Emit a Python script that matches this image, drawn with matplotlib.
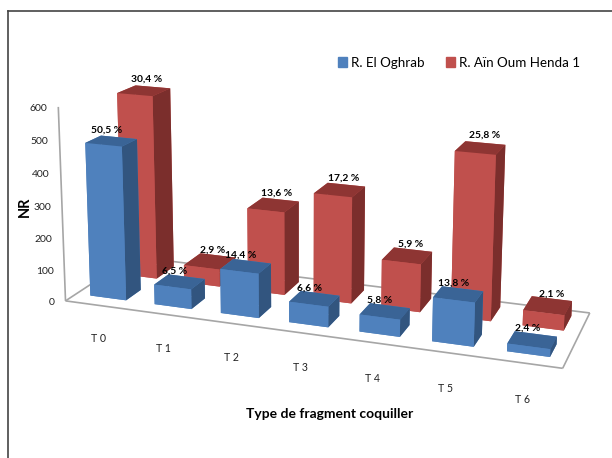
import matplotlib
matplotlib.use('Agg')
import matplotlib.pyplot as plt
import numpy as np
from matplotlib.lines import Line2D
from matplotlib.patches import Patch
from mpl_toolkits.mplot3d import Axes3D
from mpl_toolkits.mplot3d.art3d import Line3DCollection

WIDTH, HEIGHT = 612, 458

categories = ['T 0', 'T 1', 'T 2', 'T 3', 'T 4', 'T 5', 'T 6']
oghrab_counts = [480, 62, 137, 63, 52, 131, 23]
henda_counts = [590, 56, 264, 334, 150, 505, 47]
oghrab_labels = ['50,5 %', '6,5 %', '14,4 %', '6,6 %', '5,8 %', '13,8 %', '2,4 %']
henda_labels = ['30,4 %', '2,9 %', '13,6 %', '17,2 %', '5,9 %', '25,8 %', '2,1 %']
z_ticks = [0, 100, 200, 300, 400, 500, 600]

BAR_W = 0.56
BLUE_Y = (0.15, 0.37)
RED_Y = (0.62, 0.90)

# camera calibration: world (x, y, z) and the pixel each point lands on
calibration = [
    ((-0.5, 0, 0), (67, 302)), ((-0.5, 1, 0), (134, 262)),
    ((6.5, 1, 0), (591, 314)), ((6.5, 0, 0), (564, 368)),
    ((-0.5, 0, 600), (57, 104)), ((6.5, 0, 600), (571, 162)),
    ((-0.5, 0, 150), (64.5, 252.5)), ((-0.5, 0, 300), (62, 203)),
    ((-0.5, 0, 450), (59.5, 153.5)),
    ((-0.28, 0.15, 0), (91, 297)), ((0.28, 0.15, 0), (127, 301)),
    ((1.72, 0.15, 0), (219, 313)), ((2.28, 0.15, 0), (258, 318)),
    ((4.72, 0.15, 0), (431, 341)), ((5.28, 0.15, 0), (473, 346)),
    ((5.72, 0.15, 0), (507, 351)), ((6.28, 0.15, 0), (551, 356)),
    ((0.28, 0.37, 0), (139, 292)), ((5.28, 0.37, 0), (482, 335)),
    ((0.28, 0.62, 0), (159, 279)), ((0.28, 0.90, 0), (172, 264)),
    ((2.28, 0.62, 0), (285, 295)), ((2.28, 0.90, 0), (296, 280)),
    ((5.28, 0.62, 0), (492, 320)), ((5.28, 0.90, 0), (499, 305)),
    ((-0.28, 0.15, 480), (85, 143)), ((0.28, 0.15, 480), (122, 147)),
    ((-0.28, 0.62, 590), (119, 95)),
    ((4.72, 0.62, 500), (454, 151)), ((5.28, 0.62, 500), (497, 154)),
]

# face order of bar3d: bottom, top, front, back, left, right
BLUE_FACES = ['#4F81BD', '#3A6496', '#4F81BD', '#4F81BD', '#4F81BD', '#32557F']
RED_FACES = ['#C0504D', '#8E3533', '#C0504D', '#C0504D', '#C0504D', '#7B2E2C']
AXIS_GREY = '#A6A6A6'
TEXT_GREY = '#222222'

plt.rcParams['font.family'] = ['Lato', 'DejaVu Sans']


def fit_homography(points):
    # plain DLT, gives the 3x4 matrix world -> pixel
    rows = []
    for (x, y, z), (u, v) in points:
        rows.append([x, y, z, 1, 0, 0, 0, 0, -u*x, -u*y, -u*z, -u])
        rows.append([0, 0, 0, 0, x, y, z, 1, -v*x, -v*y, -v*z, -v])
    _, _, vt = np.linalg.svd(np.array(rows, dtype=float))
    h = vt[-1].reshape(3, 4)
    if h[2, 3] < 0:
        h = -h
    return h / h[2, 3]


fig = plt.figure(figsize=(WIDTH/100, HEIGHT/100), dpi=100)
# 3d axes are always square, so make it as wide as the figure and let it overhang
ax = fig.add_axes([0, -(WIDTH-HEIGHT)/2/HEIGHT, 1, WIDTH/HEIGHT], projection='3d')
ax.set_axis_off()
ax.computed_zorder = False
ax.set_xticks([])
ax.set_yticks([])
ax.set_zticks([])

world_to_pixel = fit_homography(calibration)


def excel_proj():
    # replaces the usual camera so the box sits where it should on the page
    flip = np.array([[1, 0, 0], [0, -1, HEIGHT], [0, 0, 1.0]])
    to_view = ax.transData.inverted().get_matrix() @ flip @ world_to_pixel
    depth = np.array([-0.1, 1.0, -0.001, 0.0])
    return np.array([to_view[0], to_view[1], depth, to_view[2]])


ax.get_proj = excel_proj


def world_text(x, y, z, s, **kwargs):
    # flat label pinned to a point of the 3d scene
    u, v, w = world_to_pixel @ np.array([x, y, z, 1.0])
    fig.text(u/w/WIDTH, 1 - v/w/HEIGHT, s, ha=kwargs.pop('ha', 'center'), va='center', **kwargs)


# floor outline and the value axis
corners = [(-0.5, 0, 0), (-0.5, 1, 0), (6.5, 1, 0), (6.5, 0, 0)]
segments = [[corners[i], corners[(i + 1) % 4]] for i in range(4)]
segments.append([(-0.5, 0, 0), (-0.5, 0, 600)])
ax.add_collection3d(Line3DCollection(segments, colors=AXIS_GREY, linewidths=1.2, zorder=1))

positions = np.arange(len(categories))


def draw_bars(counts, span, faces, zorder):
    for i, c in zip(positions, counts):
        ax.bar3d(i - BAR_W/2, span[0], 0, BAR_W, span[1] - span[0], c, color=faces,
                 shade=False, linewidth=0, zorder=zorder)


draw_bars(henda_counts, RED_Y, RED_FACES, 2)
draw_bars(oghrab_counts, BLUE_Y, BLUE_FACES, 3)

for i, c, lab in zip(positions, henda_counts, henda_labels):
    world_text(i + 0.05, 0.76, c + 38, lab, fontsize=7.4, fontweight='bold', color='black')
for i, c, lab in zip(positions, oghrab_counts, oghrab_labels):
    world_text(i - 0.07, 0.26, c + 32, lab, fontsize=7.4, fontweight='bold', color='black')

for z in z_ticks:
    world_text(-0.6, -0.06, z, str(z), ha='right', fontsize=7.5, color=TEXT_GREY)
for i, name in zip(positions, categories):
    world_text(i, 0, -107, name, fontsize=7.6, color=TEXT_GREY)

fig.text(25/WIDTH, 1 - 207/HEIGHT, 'NR', rotation=90, ha='center', va='center',
         fontsize=10.5, fontweight='bold')
fig.text(330/WIDTH, 1 - 414/HEIGHT, 'Type de fragment coquiller', ha='center', va='center',
         fontsize=10, fontweight='bold')

handles = [Patch(color=BLUE_FACES[0], label='R. El Oghrab'),
           Patch(color=RED_FACES[0], label='R. Aïn Oum Henda 1')]
fig.legend(handles=handles, loc='center', bbox_to_anchor=(459/WIDTH, 1 - 63/HEIGHT), ncol=2,
           frameon=False, fontsize=9.6, handlelength=0.7, handleheight=0.8,
           handletextpad=0.3, columnspacing=1.6)

# the frame only shows on its top and left sides
fig.add_artist(Line2D([7.5/WIDTH, 7.5/WIDTH], [0, 1 - 11/HEIGHT], color='#444444', lw=1.2))
fig.add_artist(Line2D([7.5/WIDTH, 1], [1 - 11/HEIGHT, 1 - 11/HEIGHT], color='#444444', lw=1.2))

fig.savefig('out.png', dpi=100)
